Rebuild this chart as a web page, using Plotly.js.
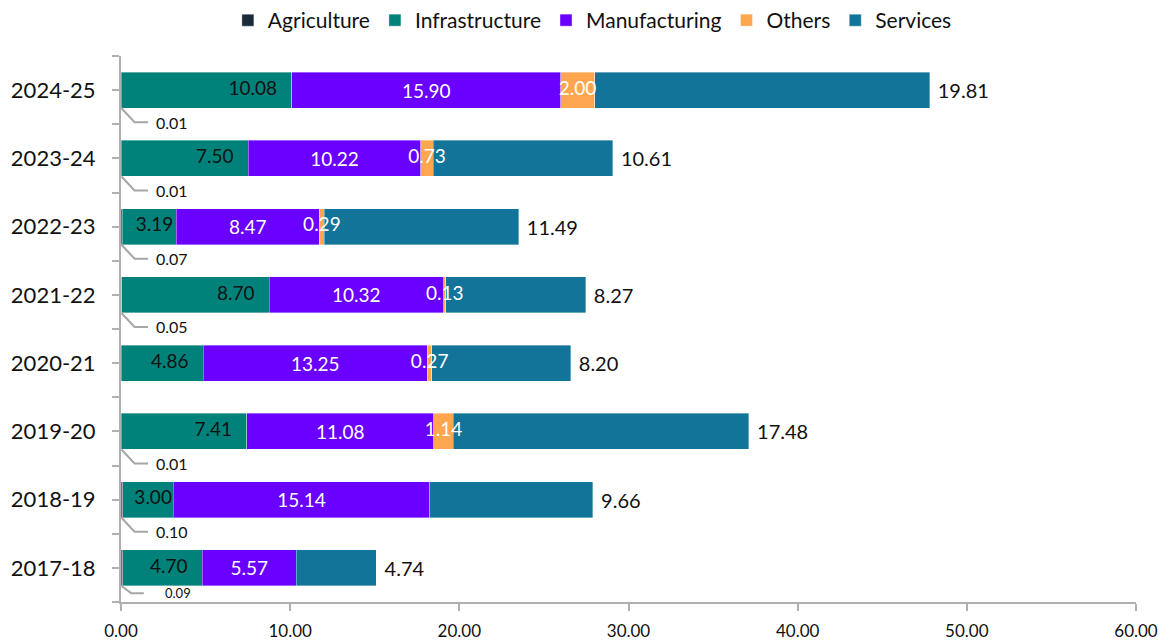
<!DOCTYPE html>
<html>
<head>
<meta charset="utf-8">
<script src="https://cdn.plot.ly/plotly-3.0.1.min.js"></script>
<style>
  html, body { margin: 0; padding: 0; background: #fff; }
  #chart { width: 1173px; height: 642px; }
</style>
</head>
<body>
<div id="chart"></div>
<script>
const years = ['2017-18', '2018-19', '2019-20', '2020-21', '2021-22', '2022-23', '2023-24', '2024-25'];
const agriculture = [0.09, 0.10, 0.01, null, 0.05, 0.07, 0.01, 0.01];
const infrastructure = [4.70, 3.00, 7.41, 4.86, 8.70, 3.19, 7.50, 10.08];
const manufacturing = [5.57, 15.14, 11.08, 13.25, 10.32, 8.47, 10.22, 15.90];
const others = [null, null, 1.14, 0.27, 0.13, 0.29, 0.73, 2.00];
const services = [4.74, 9.66, 17.48, 8.20, 8.27, 11.49, 10.61, 19.81];
const xTicks = [0, 10, 20, 30, 40, 50, 60];

const pos = years.map((_, i) => i);
const FONT = 'Lato, "Open Sans", sans-serif';
const BW = 0.53;
const edge = { color: 'rgba(255,255,255,0.45)', width: 0.8 };
const nz = v => (v == null ? 0 : v);
const fmt = v => (v == null ? '' : v.toFixed(2));

// cumulative ends from the data
const infraEnd = pos.map(i => nz(agriculture[i]) + nz(infrastructure[i]));
const manuEnd = pos.map(i => infraEnd[i] + nz(manufacturing[i]));

const traces = [
  {
    name: 'Agriculture', type: 'bar', orientation: 'h',
    x: agriculture, y: pos, width: BW,
    marker: { color: '#1b2a3a', line: edge }, hoverinfo: 'skip'
  },
  {
    name: 'Infrastructure', type: 'bar', orientation: 'h',
    x: infrastructure, y: pos, width: BW,
    marker: { color: '#00827a', line: edge }, hoverinfo: 'skip'
  },
  {
    name: 'Manufacturing', type: 'bar', orientation: 'h',
    x: manufacturing, y: pos, width: BW,
    marker: { color: '#6a00ff', line: edge },
    text: manufacturing.map(fmt), texttemplate: '%{text}',
    textposition: 'inside', insidetextanchor: 'middle', textangle: 0,
    constraintext: 'none',
    textfont: { family: FONT, size: 19, color: '#ffffff' },
    hoverinfo: 'skip'
  },
  {
    name: 'Others', type: 'bar', orientation: 'h',
    x: others, y: pos, width: BW,
    marker: { color: '#ffa64f', line: edge }, hoverinfo: 'skip'
  },
  {
    name: 'Services', type: 'bar', orientation: 'h',
    x: services, y: pos, width: BW,
    marker: { color: '#13749a', line: edge },
    text: services.map(v => '\u00a0' + fmt(v)), texttemplate: '%{text}',
    textposition: 'outside', textangle: 0,
    constraintext: 'none', cliponaxis: false,
    textfont: { family: FONT, size: 20, color: '#111' },
    hoverinfo: 'skip'
  },
  // Infrastructure labels (inside end, large bars) drawn on top
  {
    type: 'scatter', mode: 'text', showlegend: false, hoverinfo: 'skip', cliponaxis: false,
    x: pos.map(i => infrastructure[i] >= 4 ? infraEnd[i] : infraEnd[i] / 2 + 0.35),
    y: pos,
    text: pos.map(i => infrastructure[i] >= 4 ? fmt(infrastructure[i]) + '\u00a0\u00a0\u00a0' : fmt(infrastructure[i])),
    textposition: pos.map(i => infrastructure[i] >= 4 ? 'middle left' : 'middle center'),
    textfont: { family: FONT, size: 19, color: '#111' }
  },
  // Others labels centred on the thin segments, drawn on top
  {
    type: 'scatter', mode: 'text', showlegend: false, hoverinfo: 'skip', cliponaxis: false,
    x: pos.map(i => manuEnd[i] + nz(others[i]) / 2),
    y: pos,
    text: others.map(fmt),
    textposition: 'middle center',
    textfont: { family: FONT, size: 19, color: '#ffffff' }
  }
];

// Agriculture leader-line labels
const annotations = [];
const shapes = [];
pos.forEach((p, i) => {
  const v = agriculture[i];
  if (v == null) return;
  const low = i === 0 ? p - 0.37 : p - 0.47;
  shapes.push({
    type: 'path', xref: 'x', yref: 'y',
    path: `M 0.03,${p - BW / 2} L ${i === 0 ? 0.6 : 0.8},${low} L ${i === 0 ? 1.35 : 1.6},${low}`,
    line: { color: '#a6a6a6', width: 2 }
  });
  annotations.push({
    xref: 'x', yref: 'y', x: i === 0 ? 2.5 : 1.95, y: low,
    text: fmt(v), showarrow: false, xanchor: 'left', yanchor: 'middle',
    font: { family: FONT, size: i === 0 ? 13 : 16, color: '#111' }
  });
});

const layout = {
  width: 1173, height: 642,
  margin: { l: 121, r: 37, t: 56, b: 40 },
  paper_bgcolor: '#ffffff', plot_bgcolor: '#ffffff',
  barmode: 'stack',
  font: { family: FONT, color: '#111' },
  showlegend: true,
  legend: {
    orientation: 'h', xref: 'container', yref: 'container',
    x: 0.505, xanchor: 'center', y: 1.0, yanchor: 'top',
    font: { family: FONT, size: 21, color: '#111' },
    itemwidth: 30, tracegroupgap: 0, traceorder: 'normal'
  },
  xaxis: {
    range: [0, 60], tickvals: xTicks, tickformat: '.2f',
    showgrid: false, zeroline: false,
    showline: true, linecolor: '#b0b0b0', linewidth: 2,
    ticks: 'outside', ticklen: 7, tickcolor: '#b0b0b0', tickwidth: 2,
    tickfont: { family: FONT, size: 17, color: '#111' },
    ticklabelstandoff: 6, fixedrange: true
  },
  yaxis: {
    range: [-0.5, 7.5], tickvals: pos, ticktext: years,
    showgrid: false, zeroline: false,
    showline: true, linecolor: '#b0b0b0', linewidth: 2,
    ticks: 'outside', ticklen: 7, tickcolor: '#b0b0b0', tickwidth: 2,
    minor: { dtick: 0.5, tick0: 0.5, ticks: 'outside', ticklen: 7, tickcolor: '#b0b0b0', tickwidth: 2, showgrid: false },
    tickfont: { family: FONT, size: 22, color: '#111' },
    ticklabelstandoff: 12, fixedrange: true
  },
  annotations: annotations,
  shapes: shapes
};

Plotly.newPlot('chart', traces, layout, { displayModeBar: false, staticPlot: true });
</script>
</body>
</html>
